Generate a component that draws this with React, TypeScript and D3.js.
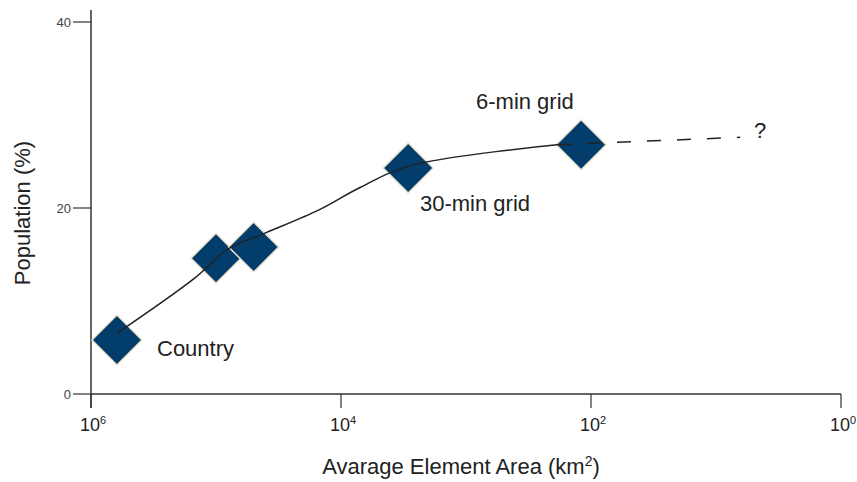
import React, { useEffect, useRef } from 'react';
import * as d3 from 'd3';

// measured points (area in km2, population share in %)
const pointArea = [620000, 100000, 50000, 2900, 120];
const pointPop = [5.8, 14.6, 15.8, 24.3, 26.8];

// hand-drawn trend through the points, then the dashed guess
const trendArea = [608000, 150000, 80000, 40500, 15000, 7050, 2900, 187];
const trendPop = [6.6, 12.4, 15.6, 17.3, 19.8, 22.2, 24.5, 26.8];
const guessArea = [187, 6.4];
const guessPop = [26.8, 27.6];

const xTickExp = [6, 4, 2, 0];
const yTicks = [0, 20, 40];

const App = () => {
  const svgRef = useRef<SVGSVGElement>(null);

  useEffect(() => {
    const svg = d3.select(svgRef.current);
    svg.selectAll('*').remove();

    const font = 'Liberation Sans, Arial, sans-serif';
    const axisColor = '#333';

    // reversed log axis: big areas on the left
    const x = d3.scaleLog().domain([1e6, 1]).range([91, 841]);
    const y = d3.scaleLinear().domain([0, 40]).range([394, 22]);

    // y axis
    svg.append('line')
      .attr('x1', 91).attr('x2', 91)
      .attr('y1', 10).attr('y2', 408)
      .attr('stroke', axisColor).attr('stroke-width', 1.5);
    svg.selectAll('.ytick')
      .data(yTicks)
      .enter()
      .append('line')
      .attr('x1', 73).attr('x2', 91)
      .attr('y1', d => y(d)).attr('y2', d => y(d))
      .attr('stroke', axisColor).attr('stroke-width', 1.2);
    svg.selectAll('.ylab')
      .data(yTicks)
      .enter()
      .append('text')
      .attr('x', 71)
      .attr('y', d => y(d) + 4.5)
      .attr('text-anchor', 'end')
      .attr('font-family', font)
      .attr('font-size', '13px')
      .attr('fill', '#444')
      .text(d => d);

    // x axis
    svg.append('line')
      .attr('x1', 91).attr('x2', 841)
      .attr('y1', y(0)).attr('y2', y(0))
      .attr('stroke', axisColor).attr('stroke-width', 1.5);
    svg.selectAll('.xtick')
      .data(xTickExp)
      .enter()
      .append('line')
      .attr('x1', d => x(Math.pow(10, d))).attr('x2', d => x(Math.pow(10, d)))
      .attr('y1', y(0)).attr('y2', 408)
      .attr('stroke', axisColor).attr('stroke-width', 1.2);
    const xl = svg.selectAll('.xlab')
      .data(xTickExp)
      .enter()
      .append('text')
      .attr('x', d => x(Math.pow(10, d)) - 11)
      .attr('y', 431)
      .attr('font-family', font)
      .attr('font-size', '18px')
      .attr('fill', '#222');
    xl.append('tspan').text('10');
    xl.append('tspan')
      .attr('dy', -7)
      .attr('font-size', '11px')
      .text(d => d);

    // axis titles
    const xt = svg.append('text')
      .attr('x', 461).attr('y', 474)
      .attr('text-anchor', 'middle')
      .attr('font-family', font)
      .attr('font-size', '22px')
      .attr('fill', '#222');
    xt.append('tspan').text('Avarage Element Area (km');
    xt.append('tspan').attr('dy', -8).attr('font-size', '14px').text('2');
    xt.append('tspan').attr('dy', 8).text(')');

    svg.append('text')
      .attr('transform', 'translate(30,213) rotate(-90)')
      .attr('text-anchor', 'middle')
      .attr('font-family', font)
      .attr('font-size', '22px')
      .attr('fill', '#222')
      .text('Population (%)');

    // diamonds
    const pts = pointArea.map((a, i) => [x(a), y(pointPop[i])]);
    const r = 25;
    svg.selectAll('.pt')
      .data(pts)
      .enter()
      .append('path')
      .attr('d', d => `M${d[0]},${d[1] - r}L${d[0] + r},${d[1]}L${d[0]},${d[1] + r}L${d[0] - r},${d[1]}Z`)
      .attr('fill', '#023d6b')
      .attr('stroke', '#ece4cf')
      .attr('stroke-width', 1.5);

    // trend line on top
    const line = d3.line<number>()
      .x(i => x(trendArea[i]))
      .y(i => y(trendPop[i]))
      .curve(d3.curveCatmullRom.alpha(0.5));
    svg.append('path')
      .attr('d', line(trendArea.map((_, i) => i)))
      .attr('fill', 'none')
      .attr('stroke', '#222')
      .attr('stroke-width', 1.5);

    svg.append('path')
      .attr('d', d3.line<number>()
        .x(i => x(guessArea[i]))
        .y(i => y(guessPop[i]))(guessArea.map((_, i) => i)))
      .attr('fill', 'none')
      .attr('stroke', '#222')
      .attr('stroke-width', 1.5)
      .attr('stroke-dasharray', '14,16');

    // annotations
    const notes = [
      { t: 'Country', x: 157, y: 356 },
      { t: '6-min grid', x: 476, y: 109 },
      { t: '30-min grid', x: 420, y: 211 },
      { t: '?', x: 754, y: 138 },
    ];
    svg.selectAll('.note')
      .data(notes)
      .enter()
      .append('text')
      .attr('x', d => d.x)
      .attr('y', d => d.y)
      .attr('font-family', font)
      .attr('font-size', '22px')
      .attr('fill', '#222')
      .text(d => d.t);
  }, []);

  return (
    <svg ref={svgRef} width={857} height={482}
      style={{ position: 'absolute', left: 0, top: 0, background: '#fff' }} />
  );
};

export default App;
